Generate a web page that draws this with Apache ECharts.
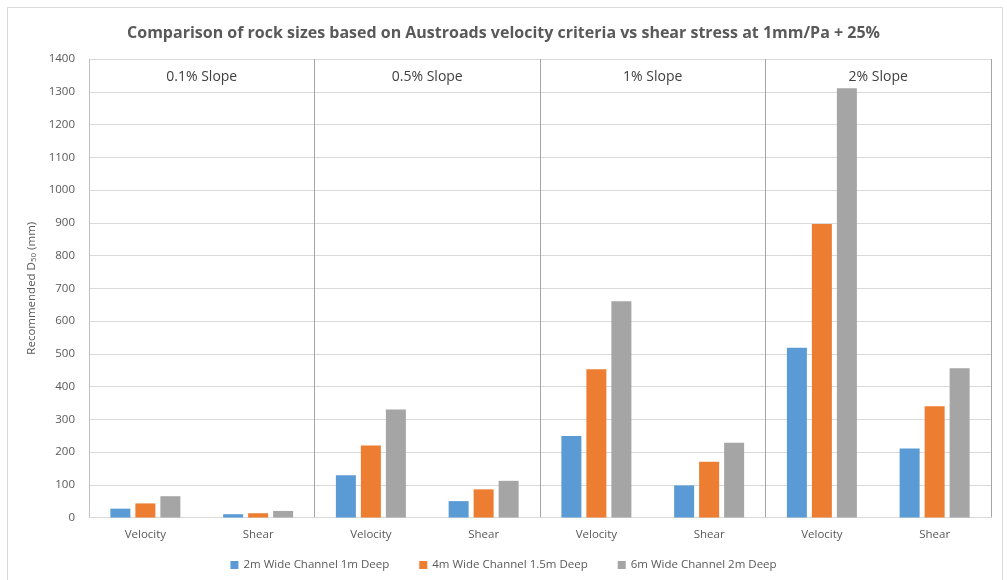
<!DOCTYPE html>
<html>
<head>
<meta charset="utf-8">
<script src="https://cdn.jsdelivr.net/npm/echarts@6/dist/echarts.min.js"></script>
<style>
  html, body { margin: 0; padding: 0; background: #fff; }
  #chart { width: 1007px; height: 580px; }
</style>
</head>
<body>
<div id="chart"></div>
<script>
// Recommended rock size D50 (mm) per slope, velocity vs shear criterion
const slopes = ['0.1% Slope', '0.5% Slope', '1% Slope', '2% Slope'];
const categories = ['Velocity', 'Shear', 'Velocity', 'Shear', 'Velocity', 'Shear', 'Velocity', 'Shear'];
const seriesNames = ['2m Wide Channel 1m Deep', '4m Wide Channel 1.5m Deep', '6m Wide Channel 2m Deep'];
const channel2m = [27, 10, 129, 50, 249, 98, 518, 211];
const channel4m = [43, 13, 220, 86, 453, 170, 896, 340];
const channel6m = [65, 20, 330, 112, 660, 228, 1311, 456];
const yTicks = [0, 1400, 100];

const colors = ['#5b9bd5', '#ed7d31', '#a5a5a5'];
const font = '"Open Sans", sans-serif';
const textGray = '#595959';

const chart = echarts.init(document.getElementById('chart'), null, { renderer: 'canvas' });

const seriesData = [channel2m, channel4m, channel6m];

chart.setOption({
  backgroundColor: '#ffffff',
  animation: false,
  color: colors,
  textStyle: { fontFamily: font },
  graphic: [{
    type: 'rect',
    shape: { x: 7.5, y: 7.5, width: 995, height: 600 },
    style: { fill: 'none', stroke: '#d9d9d9', lineWidth: 1 },
    silent: true
  }],
  title: {
    text: 'Comparison of rock sizes based on Austroads velocity criteria vs shear stress at 1mm/Pa + 25%',
    left: 'center',
    top: 20,
    textStyle: { fontFamily: font, fontSize: 16, fontWeight: 'bold', color: textGray }
  },
  legend: {
    bottom: 4,
    left: 'center',
    icon: 'rect',
    itemWidth: 8,
    itemHeight: 8,
    itemGap: 30,
    textStyle: { fontFamily: font, fontSize: 11.5, color: textGray },
    data: seriesNames
  },
  grid: { left: 89, right: 16, top: 59, bottom: 62.5, containLabel: false },
  xAxis: [{
    type: 'category',
    data: categories,
    axisLine: { lineStyle: { color: '#d9d9d9' } },
    axisTick: { show: false },
    axisLabel: { color: textGray, fontSize: 11.5, fontFamily: font, margin: 11 }
  }, {
    type: 'category',
    data: slopes,
    position: 'top',
    axisLine: { show: false },
    axisTick: { show: false },
    axisLabel: { inside: true, margin: 11, color: '#404040', fontSize: 14, fontFamily: font },
    splitLine: { show: true, lineStyle: { color: '#a6a6a6', width: 1 } }
  }],
  yAxis: {
    type: 'value',
    min: yTicks[0],
    max: yTicks[1],
    interval: yTicks[2],
    name: 'Recommended D{sub|50} (mm)',
    nameLocation: 'middle',
    nameGap: 38,
    nameRotate: 90,
    nameTextStyle: {
      color: textGray, fontSize: 11.5, fontFamily: font,
      rich: { sub: { fontSize: 8, color: textGray, fontFamily: font, padding: [5, 0, 0, 0] } }
    },
    axisLine: { show: true, lineStyle: { color: '#bfbfbf' } },
    axisTick: { show: false },
    axisLabel: { color: textGray, fontSize: 11.5, fontFamily: font, margin: 14, formatter: v => String(v) },
    splitLine: { lineStyle: { color: '#d9d9d9' } }
  },
  series: seriesNames.map((name, i) => ({
    name: name,
    type: 'bar',
    xAxisIndex: 0,
    data: seriesData[i],
    barWidth: 20,
    barGap: '25%',
    itemStyle: { color: colors[i] }
  }))
});
</script>
</body>
</html>
